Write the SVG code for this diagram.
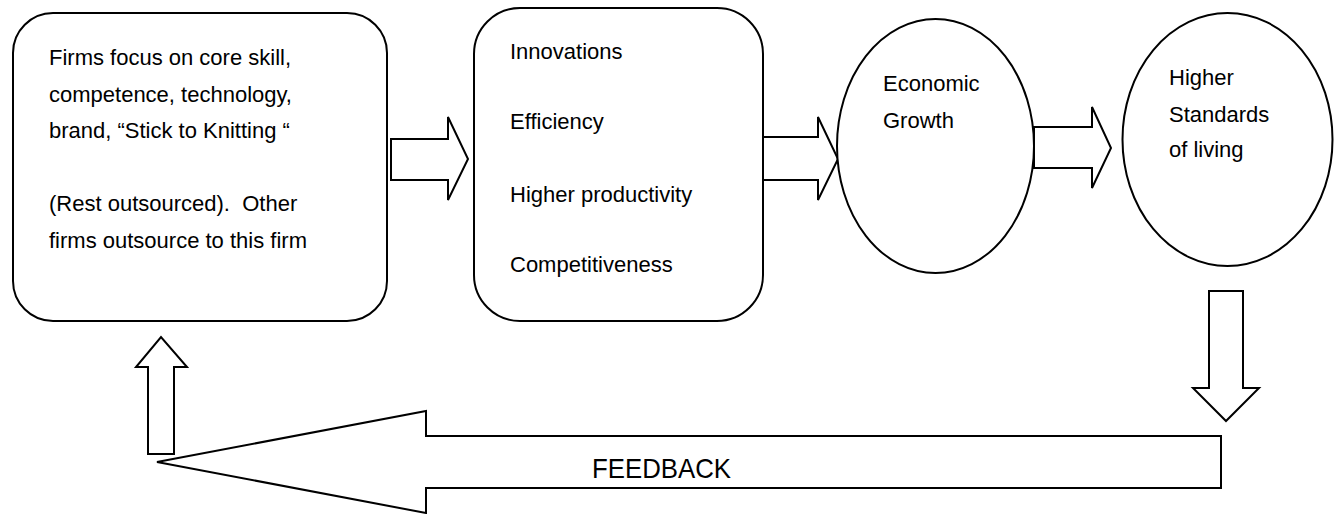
<svg xmlns="http://www.w3.org/2000/svg" width="1334" height="514" viewBox="0 0 1334 514">
  <style>
    .shape { fill: #ffffff; stroke: #000000; stroke-width: 2; stroke-linejoin: miter; }
    .label { font-family: "Liberation Sans", Arial, sans-serif; font-size: 22px; fill: #000000; }
    .big { font-family: "Liberation Sans", Arial, sans-serif; font-size: 28px; fill: #000000; }
  </style>
  <rect width="1334" height="514" fill="#ffffff"/>

  <!-- block arrows between the stages -->
  <g id="connectors">
    <polygon class="shape" points="391,139 448,139 448,117 468,159 448,200 448,180 391,180"/>
    <polygon class="shape" points="762,137 818,137 818,117 838,159 818,200 818,180 762,180"/>
    <polygon class="shape" points="1034,127 1092,127 1092,107 1111,148 1092,188 1092,168 1034,168"/>
    <polygon class="shape" points="1209,291 1243,291 1243,388 1259,388 1226,421 1193,388 1209,388"/>
    <polygon class="shape" points="1221,436 426,436 426,411 157,462 426,513 426,488 1221,488"/>
    <polygon class="shape" points="148,454 148,367 136,367 161,337 187,367 174,367 174,454"/>
  </g>

  <g id="feedback-label">
    <text class="big" x="592" y="478" textLength="139" lengthAdjust="spacingAndGlyphs">FEEDBACK</text>
  </g>

  <g id="core-focus">
    <rect class="shape" x="13" y="13" width="374" height="308" rx="40" ry="40"/>
    <text class="label" x="49" y="65">Firms focus on core skill,</text>
    <text class="label" x="49" y="102">competence, technology,</text>
    <text class="label" x="49" y="138">brand, “Stick to Knitting “</text>
    <text class="label" x="49" y="211" xml:space="preserve">(Rest outsourced).  Other</text>
    <text class="label" x="49" y="248">firms outsource to this firm</text>
  </g>

  <g id="outcomes">
    <rect class="shape" x="474" y="8" width="289" height="313" rx="46" ry="46"/>
    <text class="label" x="510" y="59">Innovations</text>
    <text class="label" x="510" y="129">Efficiency</text>
    <text class="label" x="510" y="202">Higher productivity</text>
    <text class="label" x="510" y="272">Competitiveness</text>
  </g>

  <g id="economic-growth">
    <ellipse class="shape" cx="935.5" cy="146" rx="98.5" ry="127"/>
    <text class="label" x="883" y="91">Economic</text>
    <text class="label" x="883" y="128">Growth</text>
  </g>

  <g id="living-standards">
    <ellipse class="shape" cx="1227.5" cy="139.5" rx="105" ry="126.5"/>
    <text class="label" x="1169" y="85">Higher</text>
    <text class="label" x="1169" y="122">Standards</text>
    <text class="label" x="1169" y="157">of living</text>
  </g>
</svg>
